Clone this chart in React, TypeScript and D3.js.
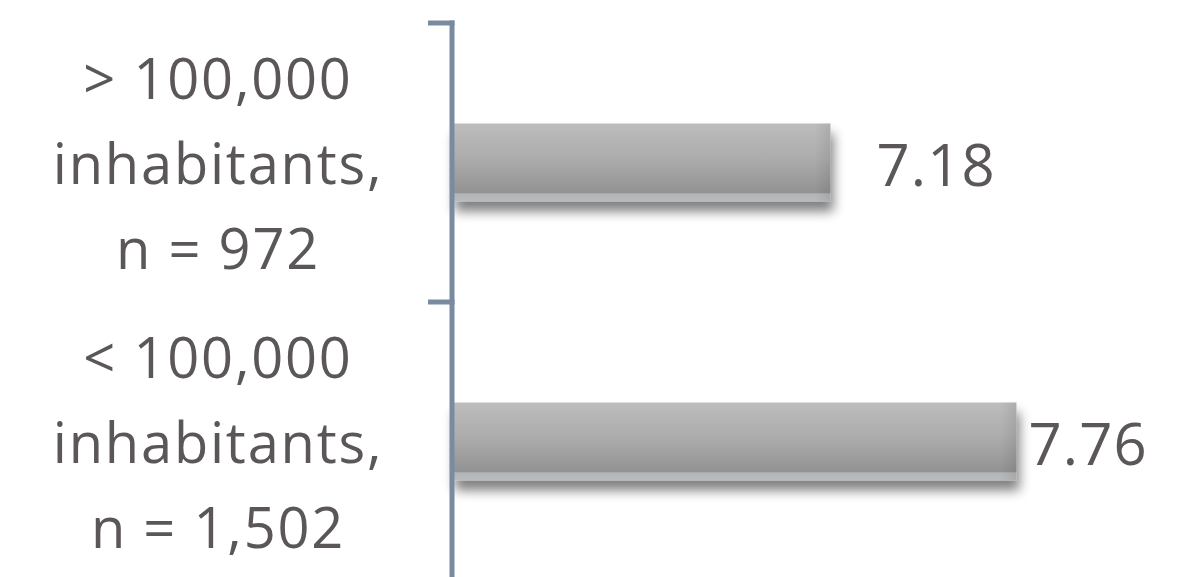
import React from "react";
import * as d3 from "d3";

const categories: string[][] = [
  ["> 100,000", "inhabitants,", "n = 972"],
  ["< 100,000", "inhabitants,", "n = 1,502"],
];
const values: number[] = [7.18, 7.76];
const valueLabels: string[] = ["7.18", "7.76"];

const W = 1189;
const H = 577;
const axisX = 452;
const FONT = "'Open Sans', Lato, sans-serif";
const TEXT = "#5b5757";
const AXIS = "#7a8aa0";
const labelDx = [46, 12];

export default function App() {
  const x = d3.scaleLinear().domain([6, 8]).range([axisX, axisX + 2 * 320.7]);
  const y = d3
    .scaleBand<number>()
    .domain(d3.range(values.length))
    .range([23, 581])
    .paddingInner(0)
    .paddingOuter(0);
  const step = y.step();
  const barH = 70;
  const ticks = d3.range(values.length + 1).map((i) => 23 + i * step);
  const lineH = 85;

  return (
    <svg
      width={W}
      height={H}
      style={{ position: "absolute", left: 0, top: 0, background: "#fff" }}
    >
      <defs>
        <linearGradient id="barGrad" x1="0" y1="0" x2="0" y2="1">
          <stop offset="0" stopColor="#bdbdbd" />
          <stop offset="0.45" stopColor="#acacac" />
          <stop offset="0.89" stopColor="#929292" />
          <stop offset="0.9" stopColor="#b2b5b7" />
          <stop offset="1" stopColor="#b9bbbd" />
        </linearGradient>
        <linearGradient id="endGrad" x1="0" y1="0" x2="1" y2="0">
          <stop offset="0" stopColor="#000" stopOpacity="0" />
          <stop offset="1" stopColor="#000" stopOpacity="0.08" />
        </linearGradient>
        <filter id="shadow" x="-5%" y="-30%" width="110%" height="190%">
          <feGaussianBlur in="SourceAlpha" stdDeviation="6" />
          <feOffset dx="3" dy="10" result="b" />
          <feComponentTransfer>
            <feFuncA type="linear" slope="0.5" />
          </feComponentTransfer>
          <feMerge>
            <feMergeNode />
            <feMergeNode in="SourceGraphic" />
          </feMerge>
        </filter>
      </defs>
      <rect x={0} y={0} width={W} height={H} fill="#fff" />

      {values.map((v, i) => {
        const by = (y(i) as number) + (step - barH) / 2 - 4;
        const bw = x(v) - x(6);
        return (
          <g key={i}>
            <rect
              x={axisX}
              y={by}
              width={bw}
              height={barH + 8}
              fill="url(#barGrad)"
              filter="url(#shadow)"
            />
            <rect
              x={axisX + bw - 16}
              y={by}
              width={16}
              height={barH + 8}
              fill="url(#endGrad)"
            />
            <text
              x={x(v) + labelDx[i]}
              y={by + barH / 2 + 27}
              fontFamily={FONT}
              fontSize={58}
              letterSpacing={1.2}
              fill={TEXT}
            >
              {valueLabels[i]}
            </text>
          </g>
        );
      })}

      {categories.map((lines, i) => {
        const cy = (y(i) as number) + step / 2;
        return (
          <text
            key={i}
            x={218}
            textAnchor="middle"
            fontFamily={FONT}
            fontSize={56}
            letterSpacing={1.8}
            fill={TEXT}
          >
            {lines.map((l, j) => (
              <tspan key={j} x={218} y={cy + (j - 1) * lineH + 21}>
                {l}
              </tspan>
            ))}
          </text>
        );
      })}

      <line x1={axisX} x2={axisX} y1={20.5} y2={H} stroke={AXIS} strokeWidth={5} />
      {ticks.map((t, i) => (
        <line
          key={i}
          x1={axisX - 24}
          x2={axisX + 2.5}
          y1={t}
          y2={t}
          stroke={AXIS}
          strokeWidth={5}
        />
      ))}
    </svg>
  );
}
